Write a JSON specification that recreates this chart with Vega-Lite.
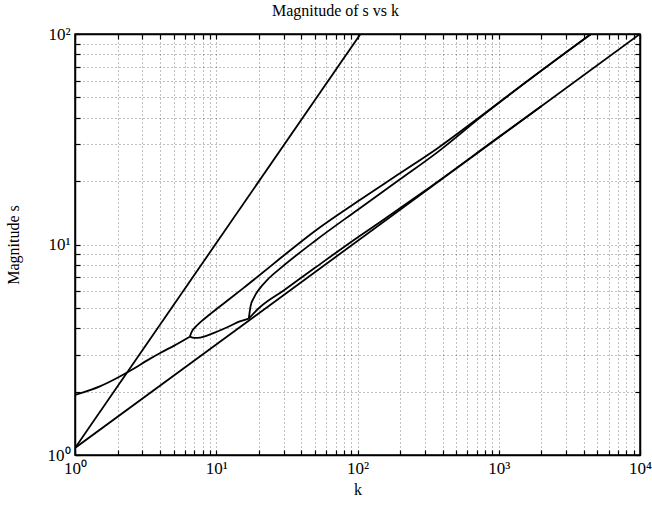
{
  "$schema": "https://vega.github.io/schema/vega-lite/v6.json",
  "width": 565,
  "height": 421,
  "autosize": "none",
  "padding": {"left": 75, "top": 34, "right": 12, "bottom": 51},
  "background": "white",
  "title": {"text": "Magnitude of s vs k", "font": "Liberation Serif", "fontSize": 16, "fontWeight": "normal", "color": "black", "offset": 6, "dx": -22},
  "config": {
    "view": {"stroke": "black", "strokeWidth": 1.5},
    "axis": {
      "domainColor": "black", "domainWidth": 1.5,
      "tickColor": "black", "tickWidth": 1.2,
      "labelFont": "Liberation Serif", "labelFontSize": 17, "labelColor": "black",
      "titleFont": "Liberation Serif", "titleFontSize": 16, "titleFontWeight": "normal", "titleColor": "black",
      "gridColor": "black", "gridDash": [1, 3], "gridOpacity": 0.5, "gridWidth": 1,
      "labelFlush": false, "labelOverlap": false, "labelBound": false
    }
  },
  "data": {"values": [
    {"series": "steep", "k": 1, "s": 1.08},
    {"series": "steep", "k": 105, "s": 100},
    {"series": "S", "k": 1, "s": 1.08},
    {"series": "S", "k": 10000, "s": 100},
    {"series": "A", "k": 1, "s": 1.93},
    {"series": "A", "k": 1.5, "s": 2.12},
    {"series": "A", "k": 2, "s": 2.33},
    {"series": "A", "k": 2.6, "s": 2.57},
    {"series": "A", "k": 3.2, "s": 2.8},
    {"series": "A", "k": 4.07, "s": 3.07},
    {"series": "A", "k": 5, "s": 3.3},
    {"series": "A", "k": 6.5, "s": 3.65},
    {"series": "U1", "k": 6.5, "s": 3.65},
    {"series": "U1", "k": 6.7, "s": 3.85},
    {"series": "U1", "k": 7.1, "s": 4.05},
    {"series": "U1", "k": 7.8, "s": 4.3},
    {"series": "U1", "k": 8.8, "s": 4.6},
    {"series": "U1", "k": 10.1, "s": 4.95},
    {"series": "U1", "k": 12.6, "s": 5.55},
    {"series": "U1", "k": 16, "s": 6.3},
    {"series": "U1", "k": 20, "s": 7.1},
    {"series": "U1", "k": 28.4, "s": 8.6},
    {"series": "U1", "k": 50, "s": 11.6},
    {"series": "U1", "k": 100, "s": 16},
    {"series": "U1", "k": 200, "s": 21.8},
    {"series": "U1", "k": 367, "s": 28.6},
    {"series": "U1", "k": 780, "s": 41.6},
    {"series": "U1", "k": 2000, "s": 67},
    {"series": "U1", "k": 4500, "s": 100},
    {"series": "F", "k": 6.5, "s": 3.65},
    {"series": "F", "k": 7.0, "s": 3.6},
    {"series": "F", "k": 7.7, "s": 3.61},
    {"series": "F", "k": 8.5, "s": 3.68},
    {"series": "F", "k": 10.1, "s": 3.85},
    {"series": "F", "k": 12.5, "s": 4.1},
    {"series": "F", "k": 14.5, "s": 4.3},
    {"series": "F", "k": 17, "s": 4.45},
    {"series": "U2", "k": 17, "s": 4.45},
    {"series": "U2", "k": 17.5, "s": 5.1},
    {"series": "U2", "k": 18.5, "s": 5.6},
    {"series": "U2", "k": 20, "s": 6.1},
    {"series": "U2", "k": 23, "s": 6.8},
    {"series": "U2", "k": 28.4, "s": 7.7},
    {"series": "U2", "k": 50, "s": 10.4},
    {"series": "U2", "k": 100, "s": 14.6},
    {"series": "U2", "k": 200, "s": 20.4},
    {"series": "U2", "k": 367, "s": 27.4},
    {"series": "U2", "k": 780, "s": 41.3},
    {"series": "U2", "k": 4500, "s": 100},
    {"series": "L2", "k": 17, "s": 4.45},
    {"series": "L2", "k": 20, "s": 4.98},
    {"series": "L2", "k": 30, "s": 6.05},
    {"series": "L2", "k": 50, "s": 7.75},
    {"series": "L2", "k": 100, "s": 10.8},
    {"series": "L2", "k": 150, "s": 13.0},
    {"series": "L2", "k": 300, "s": 18.0},
    {"series": "L2", "k": 1000, "s": 32.4},
    {"series": "L2", "k": 2000, "s": 45.4}
  ]},
  "layer": [
    {
      "mark": {"type": "line", "color": "black", "strokeWidth": 1.8, "clip": true, "interpolate": "monotone"},
      "encoding": {
        "x": {"field": "k", "type": "quantitative",
          "scale": {"type": "log", "domain": [1, 10000], "nice": false},
          "axis": {"orient": "bottom", "title": "k", "titlePadding": 5,
            "values": [1,2,3,4,5,6,7,8,9,10,20,30,40,50,60,70,80,90,100,200,300,400,500,600,700,800,900,1000,2000,3000,4000,5000,6000,7000,8000,9000,10000],
            "labelExpr": "datum.value == 1 ? '10⁰' : datum.value == 10 ? '10¹' : datum.value == 100 ? '10²' : datum.value == 1000 ? '10³' : datum.value == 10000 ? '10⁴' : ''",
            "tickSize": -5,
            "labelPadding": 10}},
        "y": {"field": "s", "type": "quantitative",
          "scale": {"type": "log", "domain": [1, 100], "nice": false},
          "axis": {"orient": "left", "title": "Magnitude s", "titlePadding": 26,
            "values": [1,2,3,4,5,6,7,8,9,10,20,30,40,50,60,70,80,90,100],
            "labelExpr": "datum.value == 1 ? '10⁰' : datum.value == 10 ? '10¹' : datum.value == 100 ? '10²' : ''",
            "tickSize": -5,
            "labelPadding": 10}},
        "detail": {"field": "series", "type": "nominal"}
      }
    },
    {
      "mark": {"type": "line", "opacity": 0},
      "encoding": {
        "x": {"field": "k", "type": "quantitative",
          "scale": {"type": "log", "domain": [1, 10000], "nice": false},
          "axis": {"orient": "top", "title": null, "labels": false, "grid": false,
            "values": [1,2,3,4,5,6,7,8,9,10,20,30,40,50,60,70,80,90,100,200,300,400,500,600,700,800,900,1000,2000,3000,4000,5000,6000,7000,8000,9000,10000],
            "tickSize": -5}},
        "y": {"field": "s", "type": "quantitative",
          "scale": {"type": "log", "domain": [1, 100], "nice": false},
          "axis": {"orient": "right", "title": null, "labels": false, "grid": false,
            "values": [1,2,3,4,5,6,7,8,9,10,20,30,40,50,60,70,80,90,100],
            "tickSize": -5}},
        "detail": {"field": "series", "type": "nominal"}
      }
    }
  ],
  "resolve": {"axis": {"x": "independent", "y": "independent"}}
}
